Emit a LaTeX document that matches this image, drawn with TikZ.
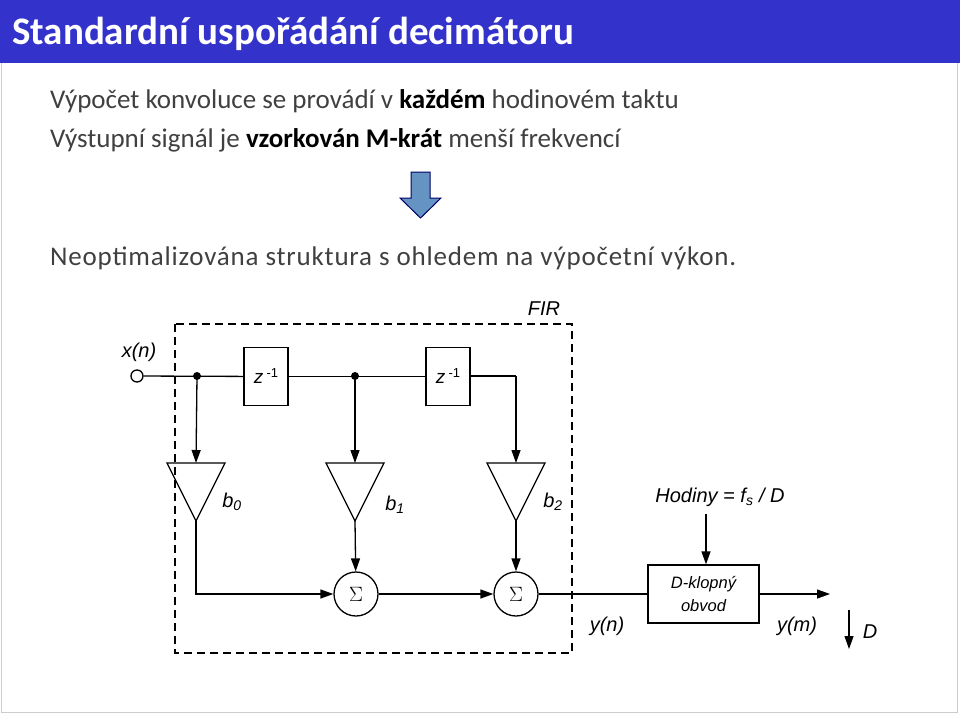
\documentclass[tikz,border=0pt]{standalone}
\usepackage{fontspec}
\setmainfont{Carlito}
\newfontfamily\arial{Liberation Sans}
\usetikzlibrary{arrows.meta}
\definecolor{tblue}{HTML}{3333CC}
\definecolor{txt}{HTML}{404040}
\tikzset{
 ln/.style={line width=1.3pt},
 arr/.style={ln,-{Triangle[length=13pt,width=9pt]}},
 blk/.style={draw,line width=1.3pt,minimum width=44pt,minimum height=58pt,inner sep=0},
 lbl/.style={font=\arial\itshape\fontsize{20}{23}\selectfont,inner sep=0},
 tri/.style={draw,line width=1.3pt},
 sl/.style={anchor=west,text=txt,font=\fontsize{27}{30}\selectfont,inner sep=0}
}
\begin{document}
\begin{tikzpicture}[x=1pt,y=-1pt]
\useasboundingbox (0,0) rectangle (960,715);
\draw[gray!40,line width=1pt] (1,1) rectangle (957,712);
\fill[tblue] (0,0) rectangle (960,63);
\node[anchor=west,text=white,font=\bfseries\fontsize{39}{42}\selectfont,inner sep=0] (title) at (12,34) {Standardní uspořádání decimátoru};
\node[sl] (l1) at (50,101) {Výpočet konvoluce se provádí v \textcolor{black}{\bfseries každém} hodinovém taktu};
\node[sl] (l2) at (50,140) {Výstupní signál je \textcolor{black}{\bfseries vzorkován M-krát} menší frekvencí};
\node[sl,font=\fontsize{27}{30}\selectfont\addfontfeature{LetterSpace=3}] (l3) at (50,258) {Neoptimalizována struktura s ohledem na výpočetní výkon.};
\draw[fill=blue!50!cyan!60!black!60,draw=blue!40!black,line width=1pt]
 (411,172) -- (430,172) -- (430,198) -- (441,198) -- (420.5,218) -- (400,198) -- (411,198) -- cycle;
% FIR box
\draw[line width=1.3pt,dash pattern=on 8pt off 5pt] (175,324) rectangle (572,653);
\node[lbl] (fir) at (544,309) {FIR};
\node[draw,circle,ln,minimum size=12pt,inner sep=0] (xin) at (137,376) {};
\node[lbl] (xl) at (139,352) {x(n)};
\coordinate (j0) at (197,376);
\coordinate (j1) at (355,376);
\fill (j0) circle (4pt); \fill (j1) circle (4pt);
\node[blk] (z1) at (266,376.5) {};
\node[blk] (z2) at (448,376.5) {};
\node[lbl,font=\arial\itshape\fontsize{19}{21}\selectfont] at (z1) {z\,\raisebox{6pt}{\fontsize{13}{14}\selectfont\upshape -1}};
\node[lbl,font=\arial\itshape\fontsize{19}{21}\selectfont] at (z2) {z\,\raisebox{6pt}{\fontsize{13}{14}\selectfont\upshape -1}};
\draw[ln] (xin) -- (z1); \draw[ln] (z1) -- (z2);
\coordinate (c2) at (516,376);
\draw[ln] (z2.east |- c2) -- (c2);
% triangles
\foreach \n/\cx in {0/196,1/355,2/516}{
 \draw[tri] (\cx-29,463) -- (\cx+29,463) -- (\cx,521) -- cycle;
 \coordinate (t\n) at (\cx,463);
 \coordinate (tb\n) at (\cx,521);
}
\draw[arr] (j0) -- (t0);
\draw[arr] (j1) -- (t1);
\draw[arr] (c2) -- (t2);
\node[lbl] (b0) at (232,502) {b\textsubscript{0}};
\node[lbl] (b1) at (395,505) {b\textsubscript{1}};
\node[lbl] (b2) at (553,502) {b\textsubscript{2}};
\node[draw,circle,ln,minimum size=44pt,inner sep=0,font=\fontsize{22}{24}\selectfont] (s1) at (356,594) {$\Sigma$};
\node[draw,circle,ln,minimum size=44pt,inner sep=0,font=\fontsize{22}{24}\selectfont] (s2) at (516,594) {$\Sigma$};
\draw[arr] (tb1) -- (s1);
\draw[arr] (tb2) -- (s2);
\draw[arr] (tb0) |- (s1);
\draw[arr] (s1) -- (s2);
\node[draw,ln,minimum width=111pt,minimum height=58pt,inner sep=0,align=center,font=\arial\itshape\fontsize{16.5}{23}\selectfont] (dff) at (703.5,594) {D-klopný\\obvod};
\draw[ln] (s2) -- (dff);
\coordinate (yout) at (830,594);
\draw[arr] (dff) -- (yout);
\node[lbl] (hod) at (720,497) {Hodiny = f\textsubscript{s} / D};
\coordinate (hs) at (706,514);
\draw[arr] (hs) -- (dff.north -| hs);
\node[lbl] (yn) at (607,626) {y(n)};
\node[lbl] (ym) at (797,626) {y(m)};
\coordinate (da) at (849,610); \coordinate (db) at (849,649);
\draw[arr] (da) -- (db);
\node[lbl] (dl) at (870,632) {D};
\end{tikzpicture}
\end{document}
